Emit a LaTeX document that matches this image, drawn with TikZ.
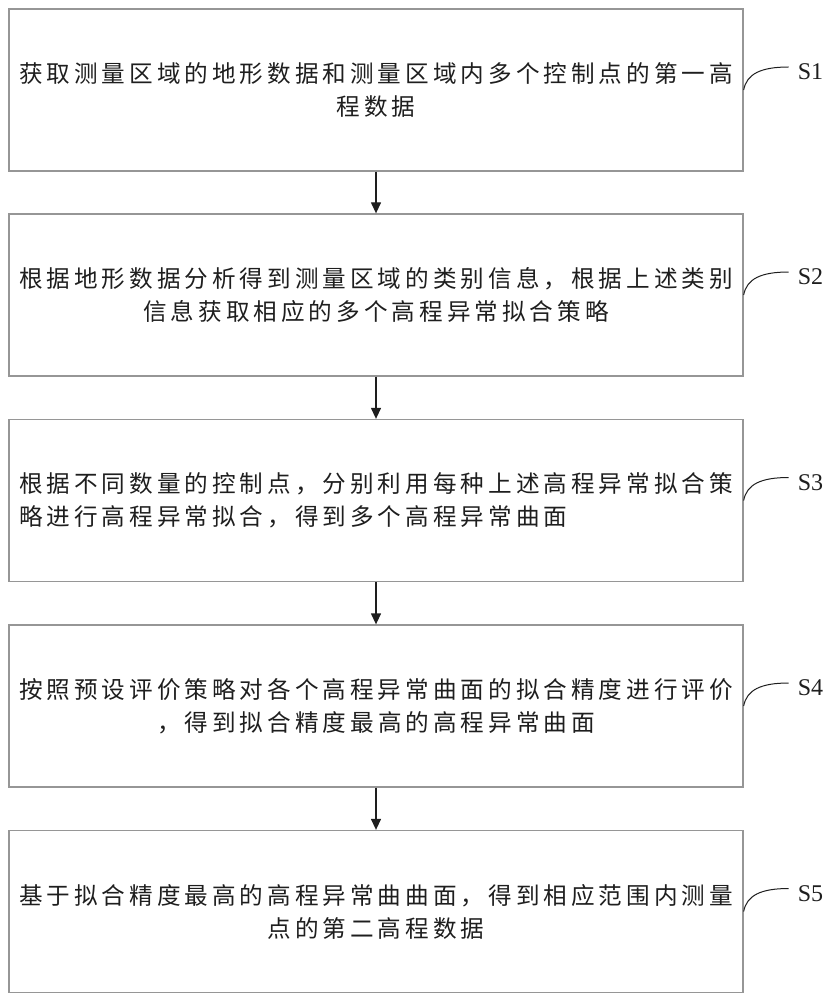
\documentclass[tikz,border=0pt]{standalone}
\usepackage{fontspec}
\newfontfamily\cjk{Noto Sans CJK SC}[LetterSpace=17]
\newfontfamily\lat{Liberation Serif}
\usetikzlibrary{arrows.meta}
\definecolor{boxgray}{RGB}{150,150,150}
\definecolor{ink}{RGB}{30,30,30}
\begin{document}
\begin{tikzpicture}[x=1pt,y=-1pt,
  stepbox/.style={draw=boxgray,line width=1.3pt,minimum width=734pt,minimum height=162pt,inner sep=0pt,
    font=\cjk\fontsize{23.6}{33}\selectfont,text=ink,align=center},
  arr/.style={draw=ink,line width=1.3pt,-{Triangle[width=10pt,length=11pt]}},
  slabel/.style={anchor=west,inner sep=0pt,font=\lat\fontsize{24}{24}\selectfont,text=ink},
  tie/.style={draw=ink,line width=1pt}]
\useasboundingbox (0,0) rectangle (835,1000);
\node[stepbox] (b1) at (376,90) {获取测量区域的地形数据和测量区域内多个控制点的第一高\\程数据};
\node[stepbox] (b2) at (376,295) {根据地形数据分析得到测量区域的类别信息，根据上述类别\\信息获取相应的多个高程异常拟合策略};
\node[stepbox,align=left] (b3) at (376,500.5) {根据不同数量的控制点，分别利用每种上述高程异常拟合策\\略进行高程异常拟合，得到多个高程异常曲面};
\node[stepbox] (b4) at (376,706) {按照预设评价策略对各个高程异常曲面的拟合精度进行评价\\，得到拟合精度最高的高程异常曲面};
\node[stepbox] (b5) at (376,911.5) {基于拟合精度最高的高程异常曲曲面，得到相应范围内测量\\点的第二高程数据};
\foreach \i/\n in {1/2,2/3,3/4,4/5}{\draw[arr] (b\i.south) -- (b\n.north);}
\foreach \i in {1,...,5}{
  \node[slabel] (s\i) at ([xshift=54pt,yshift=18pt]b\i.east) {S\i};
  \draw[tie] (b\i.east) .. controls ([xshift=3pt,yshift=16pt]b\i.east) and ([xshift=17pt,yshift=23pt]b\i.east) .. ([xshift=-9pt,yshift=5pt]s\i.west);
}
\end{tikzpicture}
\end{document}
